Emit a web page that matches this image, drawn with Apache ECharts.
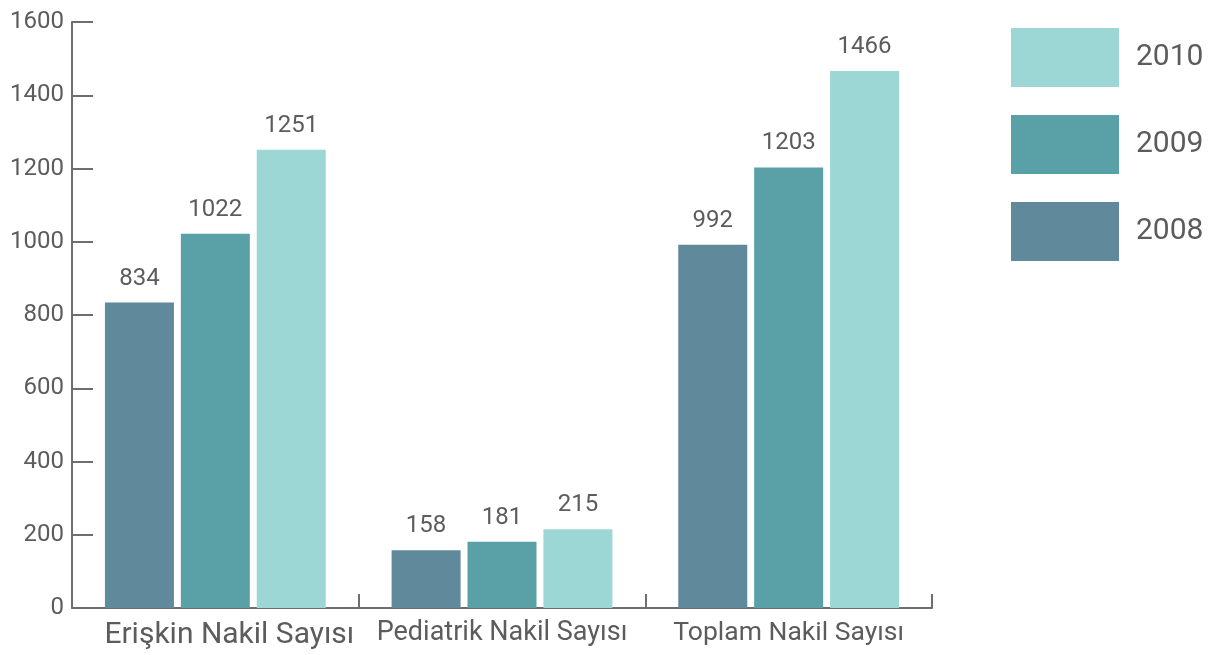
<!DOCTYPE html>
<html>
<head>
<meta charset="utf-8">
<script src="https://cdn.jsdelivr.net/npm/echarts@6/dist/echarts.min.js"></script>
<style>
  html, body { margin: 0; padding: 0; background: #ffffff; }
  #chart { width: 1220px; height: 655px; }
</style>
</head>
<body>
<div id="chart"></div>
<script>
// Transplant counts by category and year
const categories = ['Erişkin Nakil Sayısı', 'Pediatrik Nakil Sayısı', 'Toplam Nakil Sayısı'];
const years = ['2008', '2009', '2010'];
const values2008 = [834, 158, 992];
const values2009 = [1022, 181, 1203];
const values2010 = [1251, 215, 1466];
const yTicks = [0, 200, 400, 600, 800, 1000, 1200, 1400, 1600];

const colors = { '2008': '#608a9b', '2009': '#5aa0a7', '2010': '#9dd7d5' };
const textColor = '#5c5c5c';
const axisColor = '#6e6e6e';
const fontFamily = 'Roboto, "DejaVu Sans", sans-serif';

const seriesValues = { '2008': values2008, '2009': values2009, '2010': values2010 };

const chart = echarts.init(document.getElementById('chart'), null, { renderer: 'canvas' });

chart.setOption({
  animation: false,
  backgroundColor: '#ffffff',
  textStyle: { fontFamily: fontFamily },
  grid: { left: 72, right: 288, top: 22, bottom: 47, containLabel: false },
  legend: {
    data: ['2010', '2009', '2008'],
    orient: 'vertical',
    left: 1011,
    top: 28,
    padding: 0,
    itemWidth: 108,
    itemHeight: 59,
    itemGap: 28,
    icon: 'rect',
    textStyle: { fontSize: 30, color: textColor, fontFamily: fontFamily, padding: [4, 0, 0, 12] },
    selectedMode: false
  },
  xAxis: {
    type: 'category',
    data: categories,
    axisLine: { show: true, lineStyle: { color: axisColor, width: 2 } },
    axisTick: { show: true, inside: true, length: 14, lineStyle: { color: axisColor, width: 2 } },
    axisLabel: {
      margin: 12,
      color: textColor,
      formatter: function (v, i) {
        if (i === 0) return '{big|' + v + '}';
        if (i === 1) return '{mid|' + v + '}';
        return '{norm|' + v + '}';
      },
      rich: {
        big: { fontSize: 30, color: textColor, fontFamily: fontFamily, padding: [0, 0, 0, 28] },
        mid: { fontSize: 27, color: textColor, fontFamily: fontFamily },
        norm: { fontSize: 26.5, color: textColor, fontFamily: fontFamily }
      }
    }
  },
  yAxis: {
    type: 'value',
    min: yTicks[0],
    max: yTicks[yTicks.length - 1],
    interval: yTicks[1] - yTicks[0],
    axisLine: { show: true, lineStyle: { color: axisColor, width: 2 } },
    axisTick: { show: true, inside: true, length: 21, lineStyle: { color: axisColor, width: 2 } },
    splitLine: { show: false },
    axisLabel: {
      margin: 8,
      fontSize: 24,
      color: textColor,
      fontFamily: fontFamily,
      formatter: function (v) { return String(v); }
    }
  },
  series: years.map(function (y) {
    return {
      name: y,
      type: 'bar',
      data: seriesValues[y],
      barWidth: 69,
      barGap: '10%',
      itemStyle: { color: colors[y] },
      label: {
        show: true,
        position: 'top',
        distance: 12,
        fontSize: 24,
        color: textColor,
        fontFamily: fontFamily
      }
    };
  })
});
</script>
</body>
</html>
